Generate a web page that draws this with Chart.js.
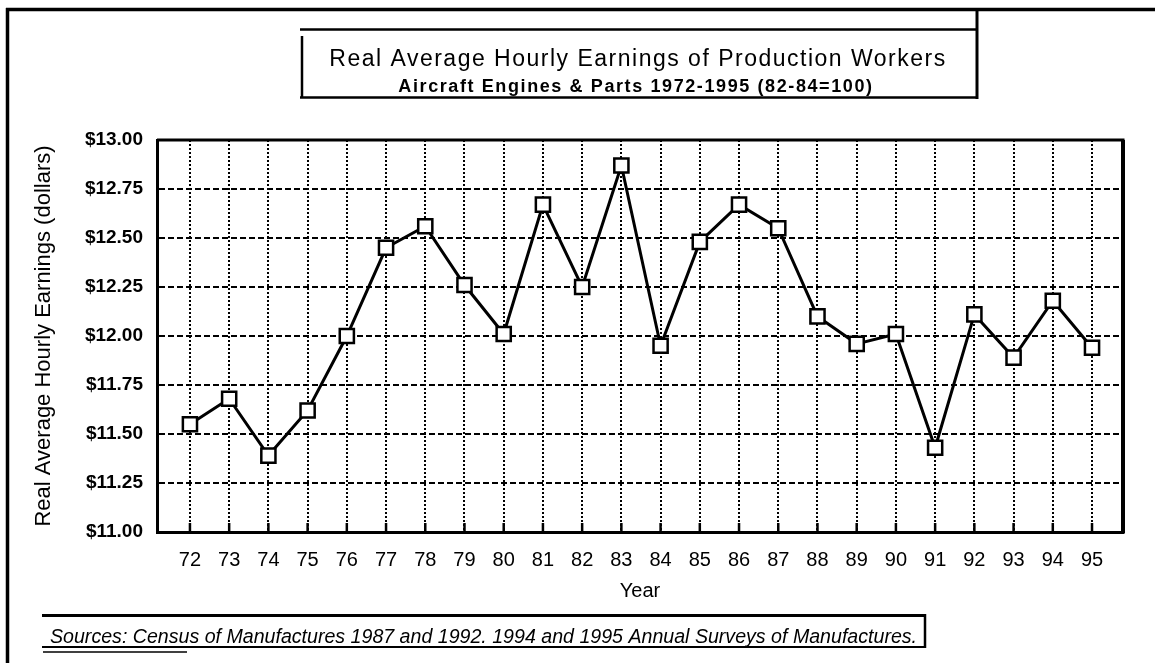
<!DOCTYPE html>
<html>
<head>
<meta charset="utf-8">
<script src="https://cdn.jsdelivr.net/npm/chart.js@4/dist/chart.umd.min.js"></script>
<style>
  html, body { margin: 0; padding: 0; background: #fff; }
</style>
</head>
<body>
<canvas id="earningsChart" width="1155" height="663"></canvas>
<script>
// data
const years = [72, 73, 74, 75, 76, 77, 78, 79, 80, 81, 82, 83, 84, 85, 86, 87, 88, 89, 90, 91, 92, 93, 94, 95];
const earnings = [11.55, 11.68, 11.39, 11.62, 12.00, 12.45, 12.56, 12.26, 12.01, 12.67, 12.25, 12.87,
                  11.95, 12.48, 12.67, 12.55, 12.10, 11.96, 12.01, 11.43, 12.11, 11.89, 12.18, 11.94];
const yTicks = [11.00, 11.25, 11.50, 11.75, 12.00, 12.25, 12.50, 12.75, 13.00];

const titleLine1 = 'Real Average Hourly Earnings of Production Workers';
const titleLine2 = 'Aircraft Engines & Parts 1972-1995 (82-84=100)';
const yTitle = 'Real Average Hourly Earnings (dollars)';
const xTitle = 'Year';
const sourceNote = 'Sources: Census of Manufactures 1987 and 1992. 1994 and 1995 Annual Surveys of Manufactures.';

const FONT = '"Liberation Sans", Arial, sans-serif';

function line(ctx, x1, y1, x2, y2, w) {
    ctx.lineWidth = w;
    ctx.beginPath();
    ctx.moveTo(x1, y1);
    ctx.lineTo(x2, y2);
    ctx.stroke();
}

// page frame, title box and source note
const pageDecor = {
    id: 'pageDecor',
    beforeDatasetsDraw(chart) {
        const ctx = chart.ctx;
        const a = chart.chartArea;
        const xs = chart.scales.x;
        ctx.save();
        ctx.strokeStyle = '#000';
        ctx.setLineDash([]);
        // top and right border of plot
        line(ctx, a.left, a.top, a.right + 1.5, a.top, 3);
        line(ctx, a.right, a.top, a.right, a.bottom + 1.5, 4);
        // small inner ticks on the x axis
        years.forEach(function (yr) {
            const px = xs.getPixelForValue(yr);
            line(ctx, px, a.bottom, px, a.bottom - 9, 2.5);
        });
        ctx.restore();
    },
    afterDraw(chart) {
        const ctx = chart.ctx;
        ctx.save();
        ctx.strokeStyle = '#000';
        ctx.fillStyle = '#000';
        // outer frame
        line(ctx, 6, 9.5, 1155, 9.5, 3.5);
        line(ctx, 7.5, 8, 7.5, 663, 3.5);
        // title box
        line(ctx, 300, 29.5, 977, 29.5, 2.5);
        line(ctx, 302, 36, 302, 97, 2.5);
        line(ctx, 300, 97.5, 978, 97.5, 2.5);
        line(ctx, 977, 8, 977, 99, 3);
        ctx.textAlign = 'center';
        ctx.textBaseline = 'alphabetic';
        ctx.letterSpacing = '1.5px';
        ctx.font = '23px ' + FONT;
        ctx.fillText(titleLine1, 638, 66);
        ctx.letterSpacing = '1.6px';
        ctx.font = 'bold 18px ' + FONT;
        ctx.fillText(titleLine2, 636, 92);
        ctx.letterSpacing = '0px';
        // source box
        line(ctx, 42, 615.5, 926, 615.5, 3);
        line(ctx, 925, 614, 925, 648, 2.5);
        line(ctx, 42, 647, 926, 647, 2);
        line(ctx, 43, 652, 187, 652, 1.5);
        ctx.textAlign = 'left';
        ctx.font = 'italic 19.6px ' + FONT;
        ctx.fillText(sourceNote, 50, 643);
        ctx.restore();
    }
};

const ctx = document.getElementById('earningsChart').getContext('2d');
new Chart(ctx, {
    type: 'line',
    data: {
        datasets: [{
            data: years.map(function (yr, i) { return { x: yr, y: earnings[i] }; }),
            borderColor: '#000',
            borderWidth: 3,
            tension: 0,
            pointStyle: 'rect',
            pointRadius: 10,
            pointBorderWidth: 2.5,
            pointBackgroundColor: '#fff',
            pointBorderColor: '#000'
        }]
    },
    options: {
        responsive: false,
        animation: false,
        events: [],
        layout: { padding: { top: 140, right: 32, bottom: 0, left: 0 } },
        plugins: {
            legend: { display: false },
            tooltip: { enabled: false }
        },
        scales: {
            x: {
                type: 'linear',
                min: 71.16,
                max: 95.79,
                afterBuildTicks: function (scale) {
                    scale.ticks = years.map(function (v) { return { value: v }; });
                },
                afterFit: function (scale) { scale.height = 131; },
                grid: {
                    color: '#000',
                    lineWidth: 2,
                    drawTicks: false
                },
                // in v4 border.dash styles the grid lines
                border: { display: true, color: '#000', width: 3, dash: [2, 2] },
                ticks: {
                    color: '#000',
                    padding: 16,
                    maxRotation: 0,
                    autoSkip: false,
                    font: { family: FONT, size: 20 },
                    callback: function (v) { return String(v); }
                },
                title: {
                    display: true,
                    text: xTitle,
                    color: '#000',
                    font: { family: FONT, size: 20 },
                    padding: { top: 0, bottom: 60 }
                }
            },
            y: {
                min: 11,
                max: 13,
                afterBuildTicks: function (scale) {
                    scale.ticks = yTicks.map(function (v) { return { value: v }; });
                },
                afterFit: function (scale) { scale.width = 157; },
                grid: {
                    color: '#000',
                    lineWidth: 2,
                    drawTicks: false
                },
                border: { display: true, color: '#000', width: 3, dash: [6, 3] },
                ticks: {
                    color: '#000',
                    padding: 14,
                    font: { family: FONT, size: 19, weight: 'bold' },
                    callback: function (v) { return '$' + Number(v).toFixed(2); }
                },
                title: {
                    display: true,
                    text: yTitle,
                    color: '#000',
                    font: { family: FONT, size: 22 },
                    padding: { top: 31, bottom: 0 }
                }
            }
        }
    },
    plugins: [pageDecor]
});
</script>
</body>
</html>
